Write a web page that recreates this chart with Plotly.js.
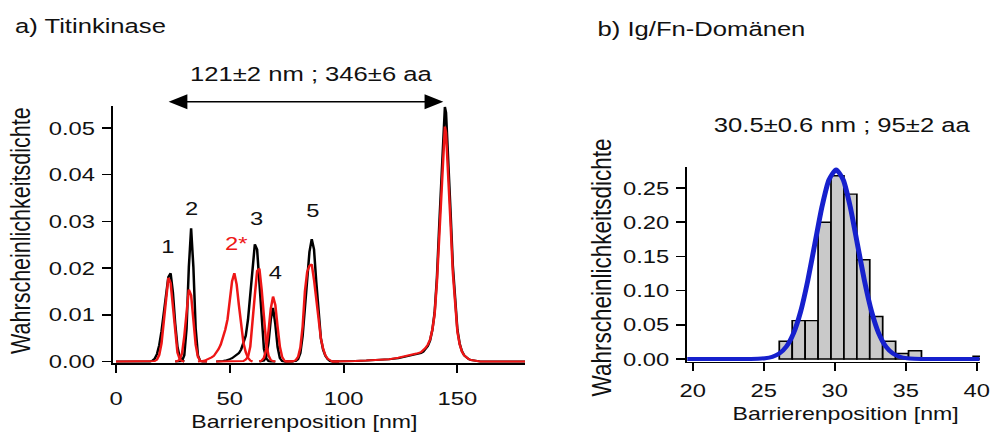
<!DOCTYPE html>
<html>
<head>
<meta charset="utf-8">
<script src="https://cdn.plot.ly/plotly-3.0.1.min.js"></script>
<style>
  html, body { margin: 0; padding: 0; background: #fff; overflow: hidden; }
  #wrap { width: 995px; height: 435px; overflow: hidden; }
  #chart { width: 796px; height: 435px; transform: scaleX(1.25); transform-origin: 0 0; }
</style>
</head>
<body>
<div id="wrap"><div id="chart"></div></div>
<script>
// ---------- Panel a) Titinkinase: density curves (x in nm) ----------
const p1X = [0,10,14,15,16,17,18,19,20,21,22,23,24,25,26,27,28,29,30];
const blackP1 = [0,0,0,0,0.0002,0.0006,0.0016,0.0035,0.0065,0.0106,0.0150,0.0181,0.0189,0.0148,0.0082,0.0032,0.0009,0.0002,0];
const redP1   = [0,0,0,0,0,0.0001,0.0004,0.0014,0.0039,0.0084,0.0139,0.0179,0.0168,0.0116,0.0056,0.0019,0.0005,0.0001,0];

const p2X = [26,27,28,29,30,31,32,33,34,35,36,37,38,40];
const blackP2 = [0,0,0,0.0001,0.0013,0.0071,0.0202,0.0285,0.0202,0.0071,0.0013,0.0001,0,0];
const redP2   = [0,0.0001,0.0004,0.0017,0.0054,0.0111,0.0154,0.0142,0.0087,0.0036,0.0010,0.0002,0,0];

const p2sX = [36,37,38,39,40,41,42,43,44,45,46,47,48,49,50,51,52,53,54,55,56,57,58,59,60];
const redP2s = [0,0,0.0001,0.0002,0.0004,0.0006,0.0009,0.0012,0.0018,0.0026,0.0036,0.0050,0.0068,0.0090,0.0128,0.0172,0.0189,0.0165,0.0120,0.0075,0.0040,0.0020,0.0008,0.0002,0];

const p3X = [44,45,46,47,48,49,50,51,52,53,54,55,56,57,58,59,60,61,62,63,64,65,66,67,68,69,70];
const blackP3 = [0,0,0.0001,0.0001,0.0002,0.0003,0.0005,0.0007,0.0010,0.0013,0.0018,0.0026,0.0038,0.0055,0.0090,0.0140,0.0200,0.0251,0.0240,0.0162,0.0078,0.0027,0.0007,0.0001,0,0,0];
const redP3   = [0,0,0,0,0,0,0,0,0,0,0,0,0.0001,0.0004,0.0010,0.0032,0.0078,0.0142,0.0194,0.0199,0.0154,0.0090,0.0039,0.0013,0.0003,0.0001,0];

const p4X = [63,64,65,66,67,68,69,70,71,72,73,74,75,78];
const blackP4 = [0,0.0001,0.0002,0.0010,0.0040,0.0090,0.0115,0.0080,0.0031,0.0007,0.0001,0,0,0];
const redP4   = [0,0.0002,0.0008,0.0026,0.0065,0.0113,0.0139,0.0121,0.0074,0.0032,0.0010,0.0002,0,0];

const p5X = [74,77,78,79,80,81,82,83,84,85,86,87,88,89,90,91,92,93,94,95,98];
const blackP5 = [0,0,0,0.0001,0.0005,0.0018,0.0055,0.0110,0.0175,0.0235,0.0262,0.0240,0.0170,0.0100,0.0050,0.0025,0.0012,0.0005,0.0001,0,0];
const redP5   = [0,0,0.0001,0.0003,0.0010,0.0030,0.0075,0.0150,0.0192,0.0205,0.0208,0.0175,0.0135,0.0090,0.0050,0.0027,0.0013,0.0006,0.0002,0,0];

const p6X = [95,100,105,110,115,120,124,127,130,132,134,135,136,137,138,139,140,141,142,143,144,144.5,145,146,147,148,149,150,151,152,153,154,155,156,158,160,170,180];
const blackP6 = [0,0,0.0001,0.0002,0.0003,0.0005,0.0007,0.0010,0.0013,0.0015,0.0018,0.0021,0.0026,0.0033,0.0045,0.0068,0.0105,0.0180,0.0290,0.0400,0.0520,0.0545,0.0533,0.0440,0.0320,0.0205,0.0120,0.0068,0.0038,0.0022,0.0013,0.0008,0.0005,0.0003,0.0001,0,0,0];
const redP6   = [0,0,0.0001,0.0002,0.0003,0.0005,0.0008,0.0011,0.0014,0.0017,0.0020,0.0024,0.0029,0.0036,0.0047,0.0068,0.0102,0.0170,0.0268,0.0370,0.0478,0.0503,0.0490,0.0405,0.0295,0.0190,0.0112,0.0064,0.0037,0.0021,0.0013,0.0008,0.0005,0.0003,0.0001,0,0,0];

// peak labels
const peakLabels = ["1", "2", "2*", "3", "4", "5"];
const peakLabelX = [23.0, 33.3, 53.0, 61.8, 70.3, 86.4];
const peakLabelY = [0.0246, 0.0328, 0.0253, 0.0307, 0.0191, 0.0323];
const peakLabelIsRed = [false, false, true, false, false, false];

// distance arrow (peak 1 -> last peak)
const arrowFrom = 22.3;
const arrowTo = 143.8;

// ---------- Panel b) Ig/Fn-Domänen: histogram + Gaussian fit ----------
const binCenters = [26.555, 27.465, 28.375, 29.285, 30.195, 31.105, 32.015, 32.925, 33.835, 34.745, 35.655, 40.205];
const binHeights = [0.026, 0.056, 0.056, 0.200, 0.268, 0.241, 0.145, 0.062, 0.026, 0.008, 0.012, 0.004];
const fitX = [19.6, 22, 24.1, 24.6, 25.1, 25.6, 26.1, 26.6, 27.1, 27.6, 28.1, 28.6, 29.1, 29.6, 30.1, 30.6, 31.1, 31.6, 32.1, 32.6, 33.1, 33.6, 34.1, 34.6, 35.1, 35.6, 36.1, 38, 40.2];
const fitY = [0, 0, 0, 0.0003, 0.0011, 0.0031, 0.0079, 0.0182, 0.0375, 0.069, 0.114, 0.168, 0.222, 0.262, 0.277, 0.262, 0.222, 0.168, 0.114, 0.069, 0.0375, 0.0182, 0.0079, 0.0031, 0.0011, 0.0003, 0, 0, 0];

// ---------- styling ----------
const FONT = "Liberation Sans, Arial, Helvetica, sans-serif";
const TXT = "#111111";
const BLACK = "#000000";
const RED = "rgb(238,22,22)";
const BLUE = "rgb(22,32,205)";

const blackSeries = [[p1X, blackP1], [p2X, blackP2], [p3X, blackP3], [p4X, blackP4], [p5X, blackP5], [p6X, blackP6]];
const redSeries = [[p1X, redP1], [p2X, redP2], [p2sX, redP2s], [p3X, redP3], [p4X, redP4], [p5X, redP5], [p6X, redP6]];

const traces = [];
blackSeries.forEach(s => traces.push({
  type: "scatter", mode: "lines", x: s[0], y: s[1], xaxis: "x", yaxis: "y",
  line: { color: BLACK, width: 2 }, hoverinfo: "skip", showlegend: false
}));
redSeries.forEach(s => traces.push({
  type: "scatter", mode: "lines", x: s[0], y: s[1], xaxis: "x", yaxis: "y",
  line: { color: RED, width: 2 }, hoverinfo: "skip", showlegend: false
}));
traces.push({
  type: "bar", x: binCenters, y: binHeights, width: 0.91, xaxis: "x2", yaxis: "y2",
  marker: { color: "#c9c9c9", line: { color: BLACK, width: 1.4 } }, showlegend: false, hoverinfo: "skip"
});
traces.push({
  type: "scatter", mode: "lines", x: fitX, y: fitY, xaxis: "x2", yaxis: "y2",
  line: { color: BLUE, width: 4, shape: "spline", smoothing: 0.6 }, showlegend: false, hoverinfo: "skip"
});

const axBase = {
  showline: true, linecolor: BLACK, linewidth: 1.6, mirror: false,
  ticks: "outside", tickcolor: BLACK, tickwidth: 1.5,
  showgrid: false, zeroline: false, fixedrange: true,
  tickfont: { family: FONT, size: 19, color: TXT }
};

const annotations = [];
const ann = (o) => annotations.push(Object.assign({ showarrow: false, font: { family: FONT, size: 18, color: TXT } }, o));

// panel titles
ann({ text: "a) Titinkinase", xref: "paper", yref: "paper", x: 0.0125, y: 0.942, xanchor: "left", yanchor: "middle", font: { family: FONT, size: 20.5, color: TXT } });
ann({ text: "b) Ig/Fn-Domänen", xref: "paper", yref: "paper", x: 0.598, y: 0.934, xanchor: "left", yanchor: "middle", font: { family: FONT, size: 20.5, color: TXT } });
// measurement labels
ann({ text: "121±2 nm ; 346±6 aa", xref: "paper", yref: "paper", x: 0.3124, y: 0.83, xanchor: "center", yanchor: "middle", font: { family: FONT, size: 20.5, color: TXT } });
ann({ text: "30.5±0.6 nm ; 95±2 aa", xref: "paper", yref: "paper", x: 0.8459, y: 0.713, xanchor: "center", yanchor: "middle", font: { family: FONT, size: 20.5, color: TXT } });
// axis titles
ann({ text: "Barrierenposition [nm]", xref: "paper", yref: "paper", x: 0.3055, y: 0.031, xanchor: "center", yanchor: "middle", font: { family: FONT, size: 18.5, color: TXT } });
ann({ text: "Barrierenposition [nm]", xref: "paper", yref: "paper", x: 0.85, y: 0.05, xanchor: "center", yanchor: "middle", font: { family: FONT, size: 18.5, color: TXT } });
ann({ text: "Wahrscheinlichkeitsdichte", xref: "paper", yref: "paper", x: 0.0211, y: 0.471, xanchor: "center", yanchor: "middle", textangle: -90, font: { family: FONT, size: 21.5, color: TXT } });
ann({ text: "Wahrscheinlichkeitsdichte", xref: "paper", yref: "paper", x: 0.605, y: 0.384, xanchor: "center", yanchor: "middle", textangle: -90, font: { family: FONT, size: 22.5, color: TXT } });
// peak labels
peakLabels.forEach((t, i) => ann({
  text: t, xref: "x", yref: "y", x: peakLabelX[i], y: peakLabelY[i], xanchor: "center", yanchor: "middle",
  font: { family: FONT, size: 19, color: peakLabelIsRed[i] ? RED : TXT }
}));
// double arrow
annotations.push({
  text: "", showarrow: true, xref: "x", yref: "paper", x: arrowTo, y: 0.7662,
  axref: "x", ayref: "pixel", ax: arrowFrom, ay: 0,
  arrowside: "end+start", arrowhead: 2, arrowsize: 2.0, arrowwidth: 1.5, arrowcolor: BLACK, standoff: 0, startstandoff: 0
});

const layout = {
  width: 796, height: 435,
  margin: { l: 0, r: 0, t: 0, b: 0, pad: 0 },
  paper_bgcolor: "#ffffff", plot_bgcolor: "rgba(0,0,0,0)",
  showlegend: false,
  font: { family: FONT, color: TXT },
  xaxis: Object.assign({}, axBase, {
    domain: [0.11357, 0.52764], range: [-1.32, 179.7], tickvals: [0, 50, 100, 150], ticklen: 8, anchor: "y",
    ticklabelstandoff: 10
  }),
  yaxis: Object.assign({}, axBase, {
    domain: [0.16552, 0.75632], range: [-0.00032, 0.0547], tickvals: [0, 0.01, 0.02, 0.03, 0.04, 0.05],
    tickformat: ".2f", ticklen: 7, anchor: "x", ticklabelstandoff: 2
  }),
  xaxis2: Object.assign({}, axBase, {
    domain: [0.6907, 0.98492], range: [19.62, 40.23], tickvals: [20, 25, 30, 35, 40], ticklen: 8, anchor: "y2",
    ticklabelstandoff: 3
  }),
  yaxis2: Object.assign({}, axBase, {
    domain: [0.16851, 0.61609], range: [-0.004, 0.2807], tickvals: [0, 0.05, 0.10, 0.15, 0.20, 0.25],
    tickformat: ".2f", ticklen: 7, anchor: "x2", ticklabelstandoff: 2
  }),
  annotations: annotations
};

Plotly.newPlot("chart", traces, layout, { staticPlot: true, displayModeBar: false });
</script>
</body>
</html>
